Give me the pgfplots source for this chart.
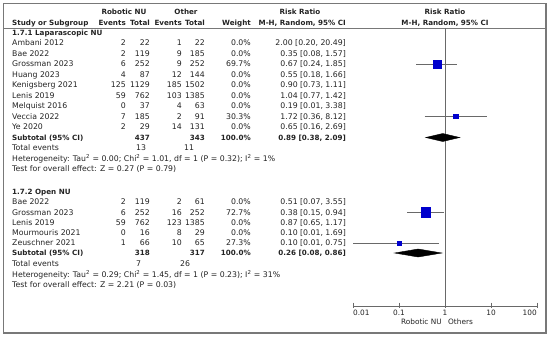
\documentclass[border=0pt]{standalone}
\usepackage{pgfplots}
\pgfplotsset{compat=1.18}
\usepackage{fontspec}
\setmainfont{DejaVu Sans}
\definecolor{txt}{RGB}{35,35,35}
\definecolor{sq}{RGB}{0,0,205}
\definecolor{ci}{RGB}{105,105,105}
\definecolor{frm}{RGB}{120,120,120}
\newcommand{\fs}{\fontsize{7.8}{9}\selectfont}
\newcommand{\B}[1]{{\fontsize{7.2}{8}\selectfont\bfseries #1}}
\newcommand{\srow}[8]{%
  \node[L] at (12,#1) {#2};
  \node[R] at (126,#1) {#3};
  \node[R] at (150,#1) {#4};
  \node[R] at (182,#1) {#5};
  \node[R] at (205,#1) {#6};
  \node[R] at (251,#1) {#7};
  \node[R] at (346,#1) {#8};}
\begin{document}
\begin{tikzpicture}[tl/.style={font=\fontsize{7.4}{8}\selectfont, text=txt, inner sep=0pt}]
\useasboundingbox (0,0) rectangle (550bp,-338bp);
\begin{scope}[x=1bp,y=-1bp, every node/.style={font=\fs, text=txt, inner sep=0pt},
  L/.style={anchor=mid west}, R/.style={anchor=mid east}, C/.style={anchor=mid}]
\draw[frm, line width=1.2bp] (3.5,3.5) rectangle (546,333);
\draw[frm, line width=0.8bp] (3.5,28) -- (546,28);
% headers
\node[C] at (124,12) {\B{Robotic NU}};
\node[C] at (186,12) {\B{Other}};
\node[C] at (300,12) {\B{Risk Ratio}};
\node[C] at (445,12) {\B{Risk Ratio}};
\node[L] at (12,23) {\B{Study or Subgroup}};
\node[R] at (126,23) {\B{Events}};
\node[R] at (150,23) {\B{Total}};
\node[R] at (182,23) {\B{Events}};
\node[R] at (205,23) {\B{Total}};
\node[R] at (251,23) {\B{Weight}};
\node[R] at (346,23) {\B{M-H, Random, 95\% CI}};
\node[C] at (445,23) {\B{M-H, Random, 95\% CI}};
% laparoscopic
\node[L] at (12,33) {\B{1.7.1 Laparascopic NU}};
\srow{43}{Ambani 2012}{2}{22}{1}{22}{0.0\%}{2.00 [0.20, 20.49]}
\srow{53.5}{Bae 2022}{2}{119}{9}{185}{0.0\%}{0.35 [0.08, 1.57]}
\srow{64}{Grossman 2023}{6}{252}{9}{252}{69.7\%}{0.67 [0.24, 1.85]}
\srow{74.5}{Huang 2023}{4}{87}{12}{144}{0.0\%}{0.55 [0.18, 1.66]}
\srow{85}{Kenigsberg 2021}{125}{1129}{185}{1502}{0.0\%}{0.90 [0.73, 1.11]}
\srow{95.5}{Lenis 2019}{59}{762}{103}{1385}{0.0\%}{1.04 [0.77, 1.42]}
\srow{106}{Melquist 2016}{0}{37}{4}{63}{0.0\%}{0.19 [0.01, 3.38]}
\srow{116.5}{Veccia 2022}{7}{185}{2}{91}{30.3\%}{1.72 [0.36, 8.12]}
\srow{127}{Ye 2020}{2}{29}{14}{131}{0.0\%}{0.65 [0.16, 2.69]}
\srow{137.5}{\B{Subtotal (95\% CI)}}{}{\B{437}}{}{\B{343}}{\B{100.0\%}}{\B{0.89 [0.38, 2.09]}}
\node[L] at (12,148) {Total events};
\node[L] at (136,148) {13};
\node[L] at (184,148) {11};
\node[L] at (12,158.5) {Heterogeneity: Tau\textsuperscript{2} = 0.00; Chi\textsuperscript{2} = 1.01, df = 1 (P = 0.32); I\textsuperscript{2} = 1\%};
\node[L] at (12,169) {Test for overall effect: Z = 0.27 (P = 0.79)};
% open
\node[L] at (12,192) {\B{1.7.2 Open NU}};
\srow{202}{Bae 2022}{2}{119}{2}{61}{0.0\%}{0.51 [0.07, 3.55]}
\srow{212.3}{Grossman 2023}{6}{252}{16}{252}{72.7\%}{0.38 [0.15, 0.94]}
\srow{222.6}{Lenis 2019}{59}{762}{123}{1385}{0.0\%}{0.87 [0.65, 1.17]}
\srow{233}{Mourmouris 2021}{0}{16}{8}{29}{0.0\%}{0.10 [0.01, 1.69]}
\srow{243}{Zeuschner 2021}{1}{66}{10}{65}{27.3\%}{0.10 [0.01, 0.75]}
\srow{253}{\B{Subtotal (95\% CI)}}{}{\B{318}}{}{\B{317}}{\B{100.0\%}}{\B{0.26 [0.08, 0.86]}}
\node[L] at (12,264) {Total events};
\node[L] at (136,264) {7};
\node[L] at (180,264) {26};
\node[L] at (12,274.5) {Heterogeneity: Tau\textsuperscript{2} = 0.29; Chi\textsuperscript{2} = 1.45, df = 1 (P = 0.23); I\textsuperscript{2} = 31\%};
\node[L] at (12,285) {Test for overall effect: Z = 2.21 (P = 0.03)};
\end{scope}
\begin{axis}[scale only axis, width=184bp, height=338bp, at={(353bp,-338bp)}, anchor=south west,
  xmode=log, xmin=0.01, xmax=100, ymin=-338, ymax=0, hide axis, clip=false]
\draw[ci, line width=0.9bp] (axis cs:1,-28) -- (axis cs:1,-306);
\draw[ci, line width=0.9bp] (axis cs:0.01,-306) -- (axis cs:100,-306);
\draw[ci, line width=0.9bp] (axis cs:0.01,-302.5) -- (axis cs:0.01,-307.5);
\draw[ci, line width=0.9bp] (axis cs:0.1,-302.5) -- (axis cs:0.1,-307.5);
\draw[ci, line width=0.9bp] (axis cs:1,-302.5) -- (axis cs:1,-307.5);
\draw[ci, line width=0.9bp] (axis cs:10,-302.5) -- (axis cs:10,-307.5);
\draw[ci, line width=0.9bp] (axis cs:100,-302.5) -- (axis cs:100,-307.5);
\node[tl, anchor=mid west] at (axis cs:0.01,-312.5) {0.01};
\node[tl, anchor=mid] at (axis cs:0.1,-312.5) {0.1};
\node[tl, anchor=mid] at (axis cs:1,-312.5) {1};
\node[tl, anchor=mid] at (axis cs:10,-312.5) {10};
\node[tl, anchor=mid east] at (axis cs:100,-312.5) {100};
\node[tl, anchor=mid east] at (axis cs:0.86,-322) {Robotic NU};
\node[tl, anchor=mid west] at (axis cs:1.16,-322) {Others};
% confidence intervals
\addplot[ci, line width=0.8bp] coordinates {(0.24,-64) (1.85,-64)};
\addplot[ci, line width=0.8bp] coordinates {(0.36,-116.5) (8.12,-116.5)};
\addplot[ci, line width=0.8bp] coordinates {(0.15,-212.3) (0.94,-212.3)};
\addplot[ci, line width=0.8bp] coordinates {(0.01,-243) (0.75,-243)};
% study squares
\addplot[only marks, mark=square*, mark size=4.3, color=sq] coordinates {(0.67,-64)};
\addplot[only marks, mark=square*, mark size=2.2, color=sq] coordinates {(1.72,-116.5)};
\addplot[only marks, mark=square*, mark size=4.7, color=sq] coordinates {(0.38,-212.3)};
\addplot[only marks, mark=square*, mark size=2.2, color=sq] coordinates {(0.10,-243)};
% pooled diamonds
\addplot[fill=black, draw=black] coordinates {(0.38,-137.5) (0.89,-133.5) (2.09,-137.5) (0.89,-141.5)} -- cycle;
\addplot[fill=black, draw=black] coordinates {(0.08,-253) (0.26,-249) (0.86,-253) (0.26,-257)} -- cycle;
\end{axis}
\end{tikzpicture}
\end{document}
